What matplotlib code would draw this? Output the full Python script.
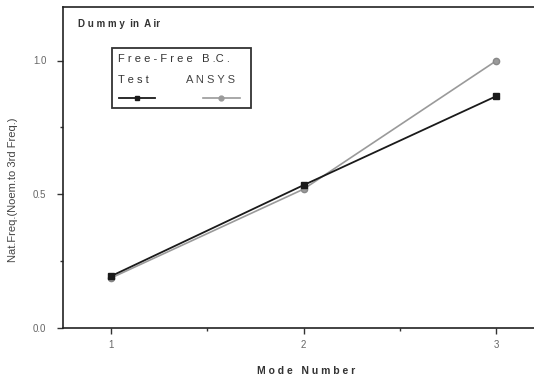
import matplotlib
matplotlib.use("Agg")
import matplotlib.pyplot as plt
from matplotlib.lines import Line2D
from matplotlib.patches import Rectangle

modes = [1, 2, 3]
test_vals = [0.194, 0.534, 0.866]
ansys_vals = [0.187, 0.519, 0.998]
xticks = [1, 2, 3]
yticks = [0.0, 0.5, 1.0]
ytick_labels = ["0.0", "0.5", "1.0"]

plt.rcParams['font.family'] = ['Liberation Sans', 'DejaVu Sans']

fig = plt.figure(figsize=(5.34, 3.80), dpi=100)
W, H = 534, 380
ax_left, ax_bottom, ax_top = 63, 328, 7
ax_w_px = 481
ax = fig.add_axes([ax_left / W, (H - ax_bottom) / H, ax_w_px / W, (ax_bottom - ax_top) / H])
ax.set_xlim(0.75, 3.25)
ax.set_ylim(0, 1.2)

test_c = '#1a1a1a'
ansys_c = '#9a9a9a'
ax.plot(modes, ansys_vals, color=ansys_c, lw=1.2, marker='o', ms=4.5,
        mfc=ansys_c, mec='#888888', zorder=3)
ax.plot(modes, test_vals, color=test_c, lw=1.3, marker='s', ms=4,
        mfc=test_c, mec=test_c, zorder=4)

ax.set_xticks(xticks)
ax.set_xticklabels([str(v) for v in xticks])
ax.set_xticks([1.5, 2.5], minor=True)
ax.set_yticks(yticks)
ax.set_yticklabels(ytick_labels)
ax.set_yticks([0.25, 0.75], minor=True)
ax.tick_params(axis='both', which='major', direction='out', length=4, width=1,
               labelsize=7, colors='#333333', labelcolor='#666666')
ax.tick_params(axis='both', which='minor', direction='out', length=2.5, width=1,
               colors='#333333')
ax.tick_params(axis='x', pad=5)
ax.tick_params(axis='y', pad=8)
for s in ['left', 'bottom', 'top']:
    ax.spines[s].set_linewidth(1.2)
    ax.spines[s].set_color('#222222')
ax.spines['right'].set_visible(False)

fig.text(13 / W, 1 - 190 / H, "Nat.Freq.(Noem.to 3rd Freq.)", rotation=90,
         ha='center', va='center', fontsize=8, color='#444444')
fig.text(306 / W, 1 - 371 / H, "M o d e   N u m b e r", ha='center', va='center',
         fontsize=7.5, color='#333333', fontweight='bold')

def fx(px):
    return px / W

def fy(py):
    return 1 - py / H

fig.text(fx(78), fy(24), "D u m m y  in  A ir", ha='left', va='center',
         fontsize=7, color='#333333', fontweight='bold')

box = Rectangle((fx(112), fy(108)), fx(251) - fx(112), fy(48) - fy(108),
                transform=fig.transFigure, fill=False, ec='#333333', lw=1.3)
fig.add_artist(box)
fig.text(fx(118), fy(59), "F r e e - F r e e   B .C .", ha='left', va='center',
         fontsize=8, color='#333333')
fig.text(fx(118), fy(80), "T e s t", ha='left', va='center', fontsize=8,
         color='#333333')
fig.text(fx(186), fy(80), "A N S Y S", ha='left', va='center', fontsize=8,
         color='#444444')
fig.add_artist(Line2D([fx(119), fx(155)], [fy(98), fy(98)], transform=fig.transFigure,
                      color=test_c, lw=1.3))
fig.add_artist(Line2D([fx(137)], [fy(98)], transform=fig.transFigure, color=test_c,
                      marker='s', ms=3.5, ls='none'))
fig.add_artist(Line2D([fx(203), fx(240)], [fy(98), fy(98)], transform=fig.transFigure,
                      color=ansys_c, lw=1.2))
fig.add_artist(Line2D([fx(221)], [fy(98)], transform=fig.transFigure, color=ansys_c,
                      marker='o', ms=3.5, ls='none'))

fig.savefig("out.png", dpi=100)
